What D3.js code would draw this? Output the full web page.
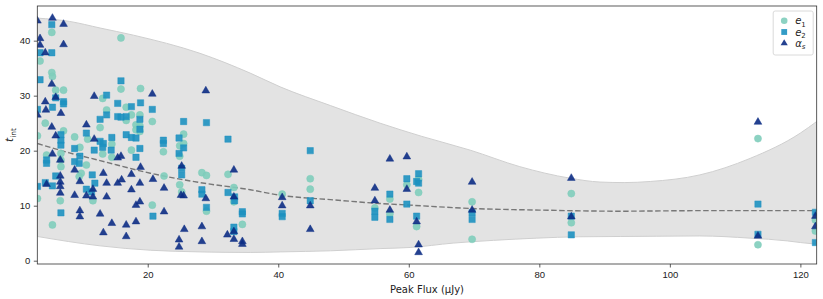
<!DOCTYPE html>
<meta charset="utf-8">
<style>

body {
  margin: 0;
  background: #fff;
}

svg {
  font-family: "DejaVu Sans", sans-serif;
}

.band {
  fill: #e3e3e3;
  stroke: #cfcfcf;
  stroke-width: 1;
}

.mean {
  fill: none;
  stroke: #777;
  stroke-width: 1.4;
  stroke-dasharray: 5.5, 2.5;
}

.axis text {
  font-size: 9.5px;
  fill: #222;
}

.axis path,
.axis line {
  stroke: #333;
  stroke-width: 0.8;
}

.frame {
  fill: none;
  stroke: #333;
  stroke-width: 0.8;
}

.legend-box {
  fill: #fff;
  fill-opacity: 0.8;
  stroke: #d0d0d0;
  stroke-width: 0.8;
}

</style>
<svg width="823" height="299"></svg>
<script src="https://d3js.org/d3.v7.min.js"></script>
<script>

// e1 (circles), e2 (squares), alpha_s (triangles): [peak flux, t_int]
var e1 = [
  [5.3,41.5],[3.5,36.3],[5.3,34.2],[5.4,33.5],[5.9,31.0],[7.1,31.0],[15.9,40.5],[15.9,31.2],[18.9,31.3],
  [13.1,29.5],[13.7,27.4],[16.7,27.9],[20.7,25.3],[3.1,22.7],[4.3,25.0],[12.7,24.2],[17.5,26.5],[18.8,26.5],
  [18.2,24.7],[18.8,24.5],[18.2,23.8],[18.8,23.5],[16.7,25.5],[8.8,22.5],[9.6,20.6],[10.8,22.1],[14.5,21.2],
  [17.5,20.1],[25.5,23.0],[25.5,21.3],[7.1,23.6],[3.1,11.3],[4.5,19.2],[5.4,6.5],[6.7,19.5],[6.7,18.3],
  [6.7,17.1],[6.6,10.9],[9.8,15.9],[9.5,15.3],[10.6,17.4],[11.6,10.9],[13.1,19.4],[14.5,18.8],[20.7,10.1],
  [22.4,19.8],[22.5,15.4],[24.9,20.9],[24.9,19.0],[24.9,13.8],[25.2,12.5],[28.3,16.0],[29.0,15.5],[32.3,15.7],
  [33.2,13.3],[33.2,10.7],[29.0,9.0],[34.5,6.6],[40.6,12.1],[44.9,14.9],[44.9,13.0],[57.1,11.2],[57.1,8.5],
  [59.7,13.8],[61.5,14.8],[61.5,12.4],[61.2,6.2],[54.8,9.6],[69.7,10.7],[69.7,3.9],[84.9,12.2],[84.9,6.9],
  [113.5,22.2],[113.5,2.9],[122.3,7.4],[122.3,5.4]
];

var e2 = [
  [5.3,42.9],[3.5,37.8],[5.3,37.8],[3.5,32.9],[15.9,32.7],[3.1,27.5],[5.4,27.9],[5.9,29.6],[7.1,28.9],
  [7.1,28.5],[13.7,30.1],[15.4,28.6],[17.5,28.0],[18.9,28.7],[20.7,27.5],[25.5,25.3],[12.7,25.7],[13.7,26.5],
  [15.4,26.2],[15.9,26.1],[16.7,26.2],[18.8,25.7],[18.8,23.9],[16.7,22.9],[17.5,22.4],[18.2,22.3],[10.6,23.2],
  [14.5,22.4],[6.7,22.9],[6.7,21.9],[6.7,21.0],[12.7,21.7],[13.2,21.3],[13.1,20.6],[22.4,21.9],[22.4,21.3],
  [24.8,22.3],[25.5,20.5],[18.8,20.4],[8.8,20.4],[4.5,18.3],[4.5,17.7],[8.8,18.0],[9.5,17.7],[9.6,19.0],
  [11.8,20.1],[14.4,20.1],[18.2,18.8],[24.8,19.5],[25.2,16.8],[25.2,15.6],[3.1,13.5],[4.3,14.2],[5.4,13.6],
  [5.9,15.4],[6.7,8.7],[11.5,15.6],[11.9,14.1],[10.6,13.0],[11.4,12.5],[20.8,8.1],[29.0,25.1],[32.3,22.1],
  [28.3,12.9],[28.3,12.1],[29.0,9.7],[32.3,12.4],[33.3,11.6],[33.3,10.9],[34.5,8.9],[34.5,8.5],[33.2,6.1],
  [33.2,5.3],[44.9,20.0],[40.6,8.6],[40.6,8.0],[44.9,10.9],[54.8,9.0],[54.8,7.9],[57.1,12.1],[57.1,7.5],
  [59.7,14.9],[59.7,10.3],[61.5,15.8],[61.2,14.4],[61.5,14.1],[61.2,8.1],[69.7,8.7],[69.7,7.5],[84.9,8.1],
  [84.9,4.7],[113.5,10.3],[113.5,4.8],[122.3,8.8],[122.3,3.3]
];

var alphaS = [
  [3.1,43.6],[5.4,44.1],[7.1,43.0],[3.5,40.4],[3.5,39.2],[4.3,37.8],[7.1,39.3],[5.3,32.1],[4.3,28.9],
  [4.4,27.4],[3.1,26.5],[5.9,29.7],[6.7,26.8],[11.8,29.9],[20.7,30.3],[5.3,24.3],[5.9,22.7],[10.6,24.7],
  [11.8,22.1],[5.4,19.4],[6.6,18.3],[6.6,15.4],[6.6,14.3],[6.6,13.5],[6.6,12.3],[4.5,13.9],[8.8,16.5],
  [8.8,11.9],[9.6,14.4],[9.6,9.1],[9.6,8.0],[10.6,11.8],[11.6,13.0],[11.6,11.6],[13.2,15.9],[13.2,5.1],
  [13.7,14.1],[13.7,11.6],[12.7,8.5],[14.5,6.8],[15.4,14.1],[15.4,18.7],[15.9,19.0],[16.0,14.7],[16.7,6.5],
  [16.7,4.4],[17.5,12.9],[17.5,15.7],[18.2,7.1],[18.2,10.1],[18.8,10.7],[18.8,14.1],[18.9,17.0],[20.8,14.8],
  [22.5,13.2],[22.5,8.9],[24.8,3.8],[24.8,2.5],[25.2,17.2],[25.1,11.9],[25.5,11.8],[25.6,5.7],[28.9,30.9],
  [28.9,11.3],[33.2,16.5],[33.2,11.6],[28.3,6.2],[28.3,3.5],[32.2,4.7],[33.2,5.3],[33.2,3.9],[34.5,3.5],
  [34.5,3.0],[40.6,11.5],[40.6,10.0],[44.9,10.0],[44.9,5.7],[54.8,13.2],[54.8,10.9],[57.1,18.5],[57.1,9.2],
  [59.7,18.9],[59.7,13.0],[61.2,7.1],[61.5,2.9],[61.5,1.5],[69.7,14.3],[69.7,9.2],[84.9,15.0],[84.9,8.0],
  [113.5,25.2],[113.5,4.5],[122.3,8.1],[122.3,6.2]
];

// fitted trend (dashed) and its shaded envelope
var trendMean = [
  [3.1,21.3],[8,19.6],[12.7,18.2],[20.4,15.9],[28,14.2],[35.7,12.9],[40.3,11.9],[48,11.1],[55.6,10.4],
  [60.2,10.1],[69.4,9.5],[80,9.2],[92.4,9.0],[105,9.1],[122.5,9.1]
];

var bandUpper = [
  [3.1,44.1],[8,43.5],[12.7,42.3],[17.8,41.0],[28,37.7],[35.7,34.1],[40.3,31.6],[48,28.2],[55.6,25.0],
  [62,22.6],[69.4,20.1],[77,17.1],[84.7,15.0],[89.3,14.3],[93,14.2],[97,14.4],[104.6,15.6],[112.3,18.6],
  [120,23.2],[122.5,25.3]
];

var bandLower = [
  [3.1,4.4],[12.7,2.7],[20.4,1.9],[28,1.6],[35.7,1.5],[40.3,1.6],[48,1.8],[55.6,2.2],[60.2,2.4],
  [66.8,3.2],[73,3.7],[79.6,4.1],[86,4.35],[92.4,4.4],[98,4.45],[104.6,4.5],[112.3,4.1],[118,3.6],
  [120,3.3],[122.5,3.0]
];

var xTicks = [20, 40, 60, 80, 100, 120],
    yTicks = [0, 10, 20, 30, 40];

var series = [
  {name: "e", sub: "1", data: e1, color: "#7fcdbb", symbol: d3.symbolCircle, size: 40},
  {name: "e", sub: "2", data: e2, color: "#1d91c0", symbol: d3.symbolSquare, size: 40},
  {name: "\u03b1", sub: "s", data: alphaS, color: "#0c2c84", symbol: d3.symbolTriangle, size: 26}
];

var svg = d3.select("svg"),
    margin = {top: 6, right: 6.3, bottom: 35, left: 37.3},
    width = +svg.attr("width") - margin.left - margin.right,
    height = +svg.attr("height") - margin.top - margin.bottom;

var x = d3.scaleLinear()
    .domain([3.08, 122.5])
    .range([0, width]);

var y = d3.scaleLinear()
    .domain([-0.6, 46.3])
    .range([height, 0]);

var g = svg.append("g")
    .attr("transform", "translate(" + margin.left + "," + margin.top + ")");

g.append("clipPath")
    .attr("id", "clip")
  .append("rect")
    .attr("width", width)
    .attr("height", height);

var plot = g.append("g")
    .attr("clip-path", "url(#clip)");

var line = d3.line()
    .curve(d3.curveMonotoneX)
    .x(function(d) { return x(d[0]); })
    .y(function(d) { return y(d[1]); });

// envelope: upper edge left->right, then lower edge right->left
var upPath = line(bandUpper),
    lowPath = line(bandLower.slice().reverse());

plot.append("path")
    .attr("class", "band")
    .attr("d", upPath + "L" + lowPath.slice(1) + "Z");

plot.append("path")
    .attr("class", "mean")
    .attr("d", line(trendMean));

// markers
series.forEach(function(s) {
  plot.append("g")
    .selectAll("path")
    .data(s.data)
    .enter().append("path")
      .attr("transform", function(d) { return "translate(" + x(d[0]) + "," + y(d[1]) + ")"; })
      .attr("d", d3.symbol().type(s.symbol).size(s.size))
      .attr("fill", s.color)
      .attr("fill-opacity", 0.9)
      .attr("stroke", s.color)
      .attr("stroke-opacity", 0.45)
      .attr("stroke-width", 1);
});

// axes
g.append("g")
    .attr("class", "axis")
    .attr("transform", "translate(0," + height + ")")
    .call(d3.axisBottom(x).tickValues(xTicks).tickSize(3.5).tickPadding(3.5))
    .call(function(a) { a.select(".domain").remove(); });

g.append("g")
    .attr("class", "axis")
    .call(d3.axisLeft(y).tickValues(yTicks).tickSize(3.5).tickPadding(3.5))
    .call(function(a) { a.select(".domain").remove(); });

g.append("rect")
    .attr("class", "frame")
    .attr("width", width)
    .attr("height", height);

g.append("text")
    .attr("x", width / 2)
    .attr("y", height + 29)
    .attr("text-anchor", "middle")
    .style("font-size", "10px")
    .attr("fill", "#222")
    .text("Peak Flux (\u03bcJy)");

var yl = g.append("text")
    .attr("transform", "translate(-24," + (height / 2) + ") rotate(-90)")
    .attr("text-anchor", "middle")
    .style("font-size", "10.5px")
    .attr("fill", "#222");
yl.append("tspan").style("font-style", "italic").text("t");
yl.append("tspan").attr("dy", 2.5).style("font-size", "7.5px").text("int");

// legend
var legend = g.append("g")
    .attr("transform", "translate(" + (width - 43.5) + ",5)");

legend.append("rect")
    .attr("class", "legend-box")
    .attr("width", 40)
    .attr("height", 44)
    .attr("rx", 2);

var item = legend.selectAll(".item")
    .data(series)
    .enter().append("g")
      .attr("class", "item")
      .attr("transform", function(d, i) { return "translate(11," + (9.7 + i * 11.3) + ")"; });

item.append("path")
    .attr("d", function(d) { return d3.symbol().type(d.symbol).size(d.size * 0.85)(); })
    .attr("fill", function(d) { return d.color; })
    .attr("fill-opacity", 0.9);

var lt = item.append("text")
    .attr("x", 11)
    .attr("y", 3.5)
    .style("font-size", "10px")
    .attr("fill", "#222");
lt.append("tspan").style("font-style", "italic").text(function(d) { return d.name; });
lt.append("tspan").attr("dy", 2.5).style("font-size", "7px")
    .style("font-style", function(d) { return d.sub === "s" ? "italic" : "normal"; })
    .text(function(d) { return d.sub; });

</script>
